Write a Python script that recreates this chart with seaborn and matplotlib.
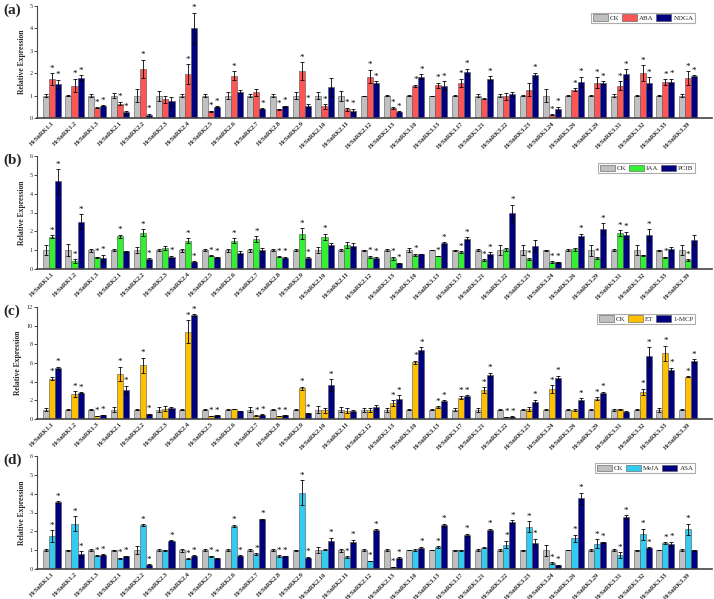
import numpy as np
import pandas as pd
import matplotlib
matplotlib.use("Agg")
import matplotlib.pyplot as plt
import seaborn as sns

genes = ["HcSnRK1.1", "HcSnRK1.2", "HcSnRK1.3", "HcSnRK2.1", "HcSnRK2.2", "HcSnRK2.3",
         "HcSnRK2.4", "HcSnRK2.5", "HcSnRK2.6", "HcSnRK2.7", "HcSnRK2.8", "HcSnRK2.9",
         "HcSnRK2.10", "HcSnRK2.11", "HcSnRK2.12", "HcSnRK2.13", "HcSnRK3.10", "HcSnRK3.13",
         "HcSnRK3.17", "HcSnRK3.21", "HcSnRK3.22", "HcSnRK3.23", "HcSnRK3.24", "HcSnRK3.26",
         "HcSnRK3.29", "HcSnRK3.31", "HcSnRK3.32", "HcSnRK3.33", "HcSnRK3.39"]

# ---------- panel (a) ----------
a_ck     = [1.0]*29
a_ck_err = [0.07,0.03,0.08,0.12,0.3,0.22,0.07,0.07,0.17,0.06,0.06,0.17,0.15,0.22,
            0.0,0.04,0.01,0.0,0.04,0.07,0.07,0.04,0.3,0.03,0.04,0.05,0.03,0.02,0.05]
a_aba     = [1.74,1.45,0.45,0.64,2.2,0.83,1.95,0.31,1.89,1.15,0.39,2.1,0.52,0.38,
             1.85,0.44,1.43,1.46,1.57,0.87,0.97,1.27,0.15,1.27,1.57,1.43,2.0,1.61,1.79]
a_aba_err = [0.27,0.3,0.02,0.08,0.4,0.17,0.45,0.02,0.2,0.15,0.03,0.4,0.1,0.07,
             0.3,0.05,0.05,0.12,0.18,0.03,0.15,0.3,0.02,0.05,0.25,0.2,0.35,0.12,0.3]
a_ndga     = [1.52,1.8,0.55,0.25,0.12,0.75,4.0,0.5,1.18,0.42,0.52,0.53,1.38,0.31,
              1.58,0.28,1.84,1.45,2.06,1.75,1.07,1.9,0.39,1.62,1.58,1.95,1.57,1.61,1.87]
a_ndga_err = [0.18,0.12,0.02,0.05,0.07,0.2,0.7,0.02,0.08,0.02,0.02,0.1,0.4,0.1,
              0.05,0.02,0.12,0.18,0.13,0.12,0.08,0.12,0.12,0.22,0.07,0.22,0.25,0.15,0.03]
a_aba_sig  = [1,1,1,1,1,0,1,1,1,0,1,1,1,1,1,1,1,1,1,0,0,0,1,1,1,1,1,1,1]
a_ndga_sig = [1,1,1,1,1,0,1,1,0,1,1,1,0,1,1,1,1,1,1,1,0,1,1,1,1,1,1,1,1]

# ---------- panel (b) ----------
b_ck     = [1.0]*29
b_ck_err = [0.28,0.33,0.08,0.04,0.15,0.05,0.08,0.06,0.08,0.08,0.07,0.04,0.16,0.07,
            0.03,0.05,0.1,0.01,0.03,0.07,0.27,0.25,0.03,0.04,0.3,0.04,0.25,0.02,0.25]
b_iaa     = [1.72,0.42,0.63,1.73,1.93,1.1,1.5,0.7,1.49,1.6,0.65,1.87,1.71,1.26,
             0.65,0.56,0.76,0.69,0.88,0.48,1.06,0.53,0.35,1.06,0.6,1.9,0.73,0.63,0.48]
b_iaa_err = [0.08,0.1,0.03,0.1,0.18,0.1,0.12,0.02,0.13,0.15,0.03,0.3,0.16,0.15,
             0.05,0.08,0.05,0.02,0.05,0.05,0.08,0.05,0.05,0.08,0.05,0.15,0.02,0.02,0.05]
b_pcib     = [4.65,2.5,0.56,0.94,0.53,0.66,0.39,0.62,0.85,1.01,0.6,0.58,1.26,1.24,
              0.6,0.3,0.8,1.36,1.6,0.78,2.97,1.22,0.35,1.73,2.14,1.79,1.8,1.08,1.54]
b_pcib_err = [0.65,0.4,0.2,0.03,0.04,0.05,0.03,0.02,0.08,0.1,0.04,0.05,0.1,0.12,
              0.05,0.03,0.02,0.07,0.08,0.1,0.45,0.3,0.03,0.15,0.3,0.2,0.3,0.1,0.25]
b_iaa_sig  = [1,1,1,1,1,0,1,1,1,1,1,1,1,0,1,1,1,1,1,1,0,1,1,0,1,1,0,1,1]
b_pcib_sig = [1,1,1,0,1,1,1,1,0,0,1,1,0,0,1,1,0,1,1,1,1,0,1,1,1,1,1,0,0]

# ---------- panel (c) ----------
c_ck     = [1.0]*29
c_ck_err = [0.15,0.03,0.04,0.3,0.07,0.3,0.03,0.05,0.03,0.25,0.05,0.02,0.35,0.25,
            0.2,0.2,0.02,0.03,0.15,0.2,0.02,0.03,0.02,0.03,0.03,0.1,0.02,0.2,0.02]
c_et     = [4.33,2.66,0.32,4.82,5.75,1.1,9.37,0.32,1.07,0.35,0.3,3.3,0.92,0.88,
            1.0,1.74,6.06,1.31,2.3,3.12,0.2,1.06,3.2,1.0,2.16,1.03,2.88,7.06,4.53]
c_et_err = [0.2,0.3,0.05,0.8,0.8,0.25,1.2,0.03,0.05,0.05,0.03,0.15,0.25,0.25,
            0.2,0.3,0.2,0.08,0.2,0.3,0.02,0.2,0.4,0.1,0.15,0.05,0.35,0.8,0.05]
c_mcp     = [5.46,2.8,0.42,3.12,0.53,1.17,11.1,0.39,0.88,0.46,0.38,0.6,3.62,0.88,
             1.31,2.16,7.38,1.92,2.45,4.72,0.25,1.8,4.43,2.06,2.8,0.78,6.7,5.2,6.23]
c_mcp_err = [0.15,0.05,0.03,0.45,0.05,0.15,0.1,0.03,0.03,0.05,0.02,0.05,0.65,0.12,
             0.2,0.4,0.3,0.1,0.1,0.25,0.03,0.25,0.2,0.15,0.1,0.03,1.0,0.3,0.2]
c_et_sig  = [1,1,1,1,1,0,1,1,0,1,1,1,0,0,0,1,1,1,1,1,1,0,1,0,1,0,1,1,1]
c_mcp_sig = [1,1,1,1,1,0,1,1,0,1,1,1,1,0,0,1,1,1,1,1,1,1,1,1,1,0,1,1,1]

# ---------- panel (d) ----------
d_ck     = [1.0]*29
d_ck_err = [0.05,0.02,0.07,0.03,0.2,0.05,0.08,0.07,0.07,0.07,0.05,0.03,0.15,0.08,
            0.05,0.07,0.01,0.01,0.02,0.05,0.05,0.02,0.3,0.01,0.05,0.05,0.02,0.01,0.04]
d_meja     = [1.76,2.41,0.7,0.56,2.33,1.0,0.55,0.67,2.3,0.79,0.69,4.05,1.02,0.63,
              0.43,0.1,1.03,1.17,0.99,1.12,1.29,2.25,0.32,1.62,1.34,0.75,1.84,1.36,2.11]
d_meja_err = [0.3,0.4,0.03,0.05,0.05,0.03,0.03,0.03,0.05,0.05,0.04,0.65,0.02,0.04,
              0.02,0.02,0.05,0.05,0.02,0.03,0.2,0.3,0.03,0.2,0.25,0.15,0.3,0.05,0.3]
d_asa     = [3.56,0.78,0.76,0.67,0.23,1.5,0.7,0.58,0.7,2.65,0.69,0.61,1.48,1.46,
             2.06,0.57,1.12,2.31,1.82,2.07,2.52,1.4,0.2,3.76,1.41,2.75,1.14,1.34,1.0]
d_asa_err = [0.03,0.15,0.02,0.03,0.02,0.03,0.03,0.03,0.03,0.03,0.02,0.05,0.18,0.1,
             0.05,0.05,0.06,0.1,0.05,0.07,0.07,0.2,0.03,0.3,0.03,0.1,0.02,0.1,0.02]
d_meja_sig = [1,1,1,1,1,0,1,1,1,1,1,1,0,1,1,1,0,1,0,0,1,1,1,1,1,1,1,1,1]
d_asa_sig  = [1,1,1,1,1,1,1,1,1,1,1,1,1,1,1,1,1,1,1,1,1,1,1,1,1,1,1,1,0]

panels = [
    dict(letter="(a)", names=["CK", "ABA", "NDGA"],
         vals=[a_ck, a_aba, a_ndga], errs=[a_ck_err, a_aba_err, a_ndga_err],
         sig=[[0]*29, a_aba_sig, a_ndga_sig],
         colors=["#C0C0C0", "#FF5555", "#000080"], ymax=5, step=1),
    dict(letter="(b)", names=["CK", "IAA", "PCIB"],
         vals=[b_ck, b_iaa, b_pcib], errs=[b_ck_err, b_iaa_err, b_pcib_err],
         sig=[[0]*29, b_iaa_sig, b_pcib_sig],
         colors=["#C0C0C0", "#33F033", "#000080"], ymax=6, step=1),
    dict(letter="(c)", names=["CK", "ET", "1-MCP"],
         vals=[c_ck, c_et, c_mcp], errs=[c_ck_err, c_et_err, c_mcp_err],
         sig=[[0]*29, c_et_sig, c_mcp_sig],
         colors=["#C0C0C0", "#FFC000", "#000080"], ymax=12, step=2),
    dict(letter="(d)", names=["CK", "MeJA", "ASA"],
         vals=[d_ck, d_meja, d_asa], errs=[d_ck_err, d_meja_err, d_asa_err],
         sig=[[0]*29, d_meja_sig, d_asa_sig],
         colors=["#C0C0C0", "#33CCF0", "#000080"], ymax=6, step=1),
]

sns.set_style("ticks")
plt.rcParams["font.family"] = ["Liberation Serif", "DejaVu Serif"]

W, H = 714, 599
fig = plt.figure(figsize=(W/100, H/100), dpi=100)

tops = [6, 156, 307, 456]
bots = [118, 269, 419, 569]
left_px, right_px = 37, 712

for p, top, bot in zip(panels, tops, bots):
    ax = fig.add_axes([left_px/W, 1 - bot/H, (right_px-left_px)/W, (bot-top)/H])
    rows = []
    for name, vals in zip(p["names"], p["vals"]):
        for g, v in zip(genes, vals):
            rows.append({"gene": g, "treat": name, "value": v})
    df = pd.DataFrame(rows)
    sns.barplot(data=df, x="gene", y="value", hue="treat", hue_order=p["names"],
                order=genes, palette=p["colors"], errorbar=None, width=0.8,
                saturation=1, linewidth=0.4, edgecolor="#555555", ax=ax, legend=True)
    for cont, vals, errs, sig in zip(ax.containers, p["vals"], p["errs"], p["sig"]):
        xs = [b.get_x() + b.get_width()/2 for b in cont]
        ax.errorbar(xs, vals, yerr=errs, fmt="none", ecolor="black",
                    elinewidth=0.6, capsize=1.5, capthick=0.6)
        for x, v, e, s in zip(xs, vals, errs, sig):
            if s:
                ax.text(x, v + e + p["ymax"]*0.005, "*", ha="center", va="bottom",
                        fontsize=6.5, color="black")
    ax.set_xlim(-0.65, 29.05)
    ax.set_ylim(0, p["ymax"])
    ax.set_yticks(np.arange(0, p["ymax"] + 0.01, p["step"]))
    ax.tick_params(axis="y", labelsize=4.5, length=2, width=0.6, pad=1)
    ax.tick_params(axis="x", length=0, pad=2)
    ax.set_xticks(range(len(genes)))
    ax.set_xticklabels(genes, rotation=45, ha="right", rotation_mode="anchor",
                       fontsize=4.6, fontweight="bold")
    ax.set_xlabel("")
    ax.set_ylabel("Relative Expression", fontsize=5.5, fontweight="bold", labelpad=3)
    for s in ["top", "right"]:
        ax.spines[s].set_visible(False)
    ax.spines["bottom"].set_linewidth(1.2)
    ax.spines["bottom"].set_color("#444444")
    ax.spines["left"].set_linewidth(0.8)
    ax.spines["left"].set_color("#444444")
    leg = ax.legend(loc="upper right", bbox_to_anchor=(0.975, 0.94), ncol=3,
                    fontsize=5, frameon=True, fancybox=False, handlelength=2.2,
                    handleheight=1.1, handletextpad=0.3, columnspacing=0.3,
                    borderpad=0.25, borderaxespad=0)
    leg.get_frame().set_edgecolor("#999999")
    leg.get_frame().set_linewidth(0.8)
    fig.text(3/W, 1 - (top + 4)/H, p["letter"], fontsize=11, fontweight="bold",
             ha="left", va="center")

fig.savefig("out.png", dpi=100)
